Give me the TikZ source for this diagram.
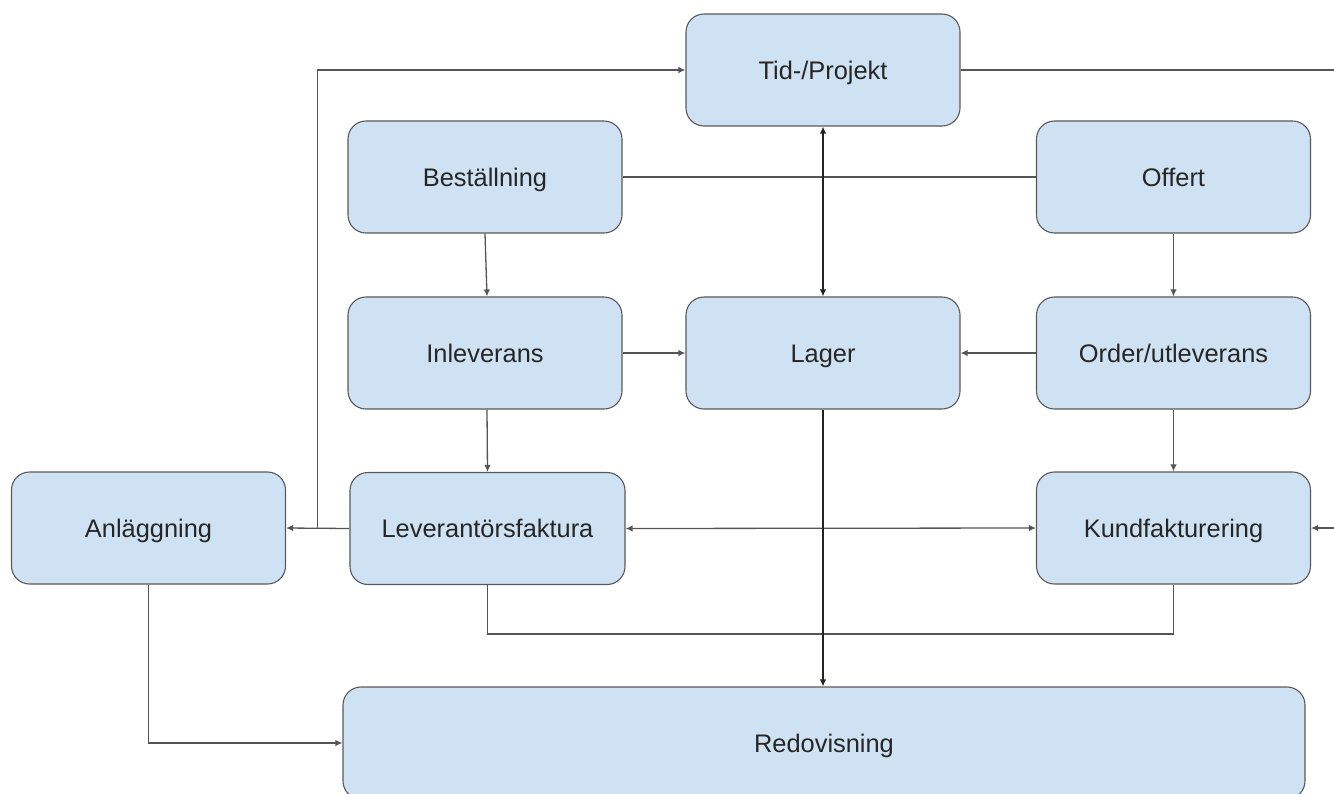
\documentclass[tikz,border=0pt]{standalone}
\usepackage{fontspec}
\setmainfont{Liberation Sans}
\usetikzlibrary{arrows.meta,calc}
\definecolor{boxfill}{HTML}{CFE2F3}
\definecolor{boxline}{HTML}{595959}
\definecolor{wire}{HTML}{555555}
\definecolor{spine}{HTML}{222222}
\definecolor{ink}{HTML}{262626}
\tikzset{
  proc/.style={draw=boxline, line width=1.1pt, fill=boxfill, rounded corners=18pt,
    minimum width=274pt, minimum height=112pt, inner sep=0pt, text=ink,
    text height=18.2pt, text depth=0pt,
    font=\fontsize{25.4}{30}\selectfont},
  wire/.style={draw=wire, line width=1.3pt},
  spinewire/.style={draw=spine, line width=1.4pt},
  tip/.style={-{Latex[length=7pt,width=6.5pt]}},
  tips/.style={{Latex[length=7pt,width=6.5pt]}-{Latex[length=7pt,width=6.5pt]}}
}
\begin{document}
\begin{tikzpicture}[x=1pt,y=-1pt]
  \useasboundingbox (0,0) rectangle (1334,793);
  \clip (0,0) rectangle (1334,793);

  % process boxes
  \node[proc] (tid) at (823,70) {Tid-/Projekt};
  \node[proc] (bes) at (485,177) {Beställning};
  \node[proc] (off) at (1173.5,177) {Offert};
  \node[proc] (inl) at (485,353) {Inleverans};
  \node[proc] (lag) at (823,353) {Lager};
  \node[proc] (ord) at (1173.5,353) {Order/utleverans};
  \node[proc] (anl) at (148.5,528) {Anläggning};
  \node[proc, minimum width=275pt] (lev) at (487.5,528.5) {Leverantörsfaktura};
  \node[proc] (kun) at (1173.5,528) {Kundfakturering};
  \node[proc, minimum width=962pt] (red) at (824,743) {Redovisning};

  % helper points
  \coordinate (split) at ($(anl.east)!0.5!(lev.west)$);
  \coordinate (far) at (1345,0);
  \coordinate (low) at (0,634);

  % connectors
  \draw[wire] (bes.east) -- (off.west);
  \draw[wire] (lev.south) -- (lev.south |- low) -- (kun.south |- low) -- (kun.south);
  \draw[wire, tip] (bes.south) -- (inl.north -| 487,0);
  \draw[wire, tip] (inl.east) -- (lag.west);
  \draw[wire, tip] (ord.west) -- (lag.east);
  \draw[wire, tip] (off.south) -- (ord.north);
  \draw[wire, tip] (inl.south -| 487,0) -- (lev.north);
  \draw[wire, tip] (ord.south) -- (kun.north);
  \draw[wire, tips] (lev.east) -- (kun.west);
  \draw[wire, tip] (lev.west) -- (anl.east);
  \draw[wire, tip] (split) |- (tid.west);
  \draw[wire, tip] (tid.east) -- (tid.east -| far) -- (kun.east -| far) -- (kun.east);
  \draw[wire, tip] (anl.south) |- (red.west);
  \draw[spinewire, tips] (tid.south) -- (lag.north);
  \draw[spinewire, tip] (lag.south) -- (red.north -| lag.south);
\end{tikzpicture}
\end{document}
